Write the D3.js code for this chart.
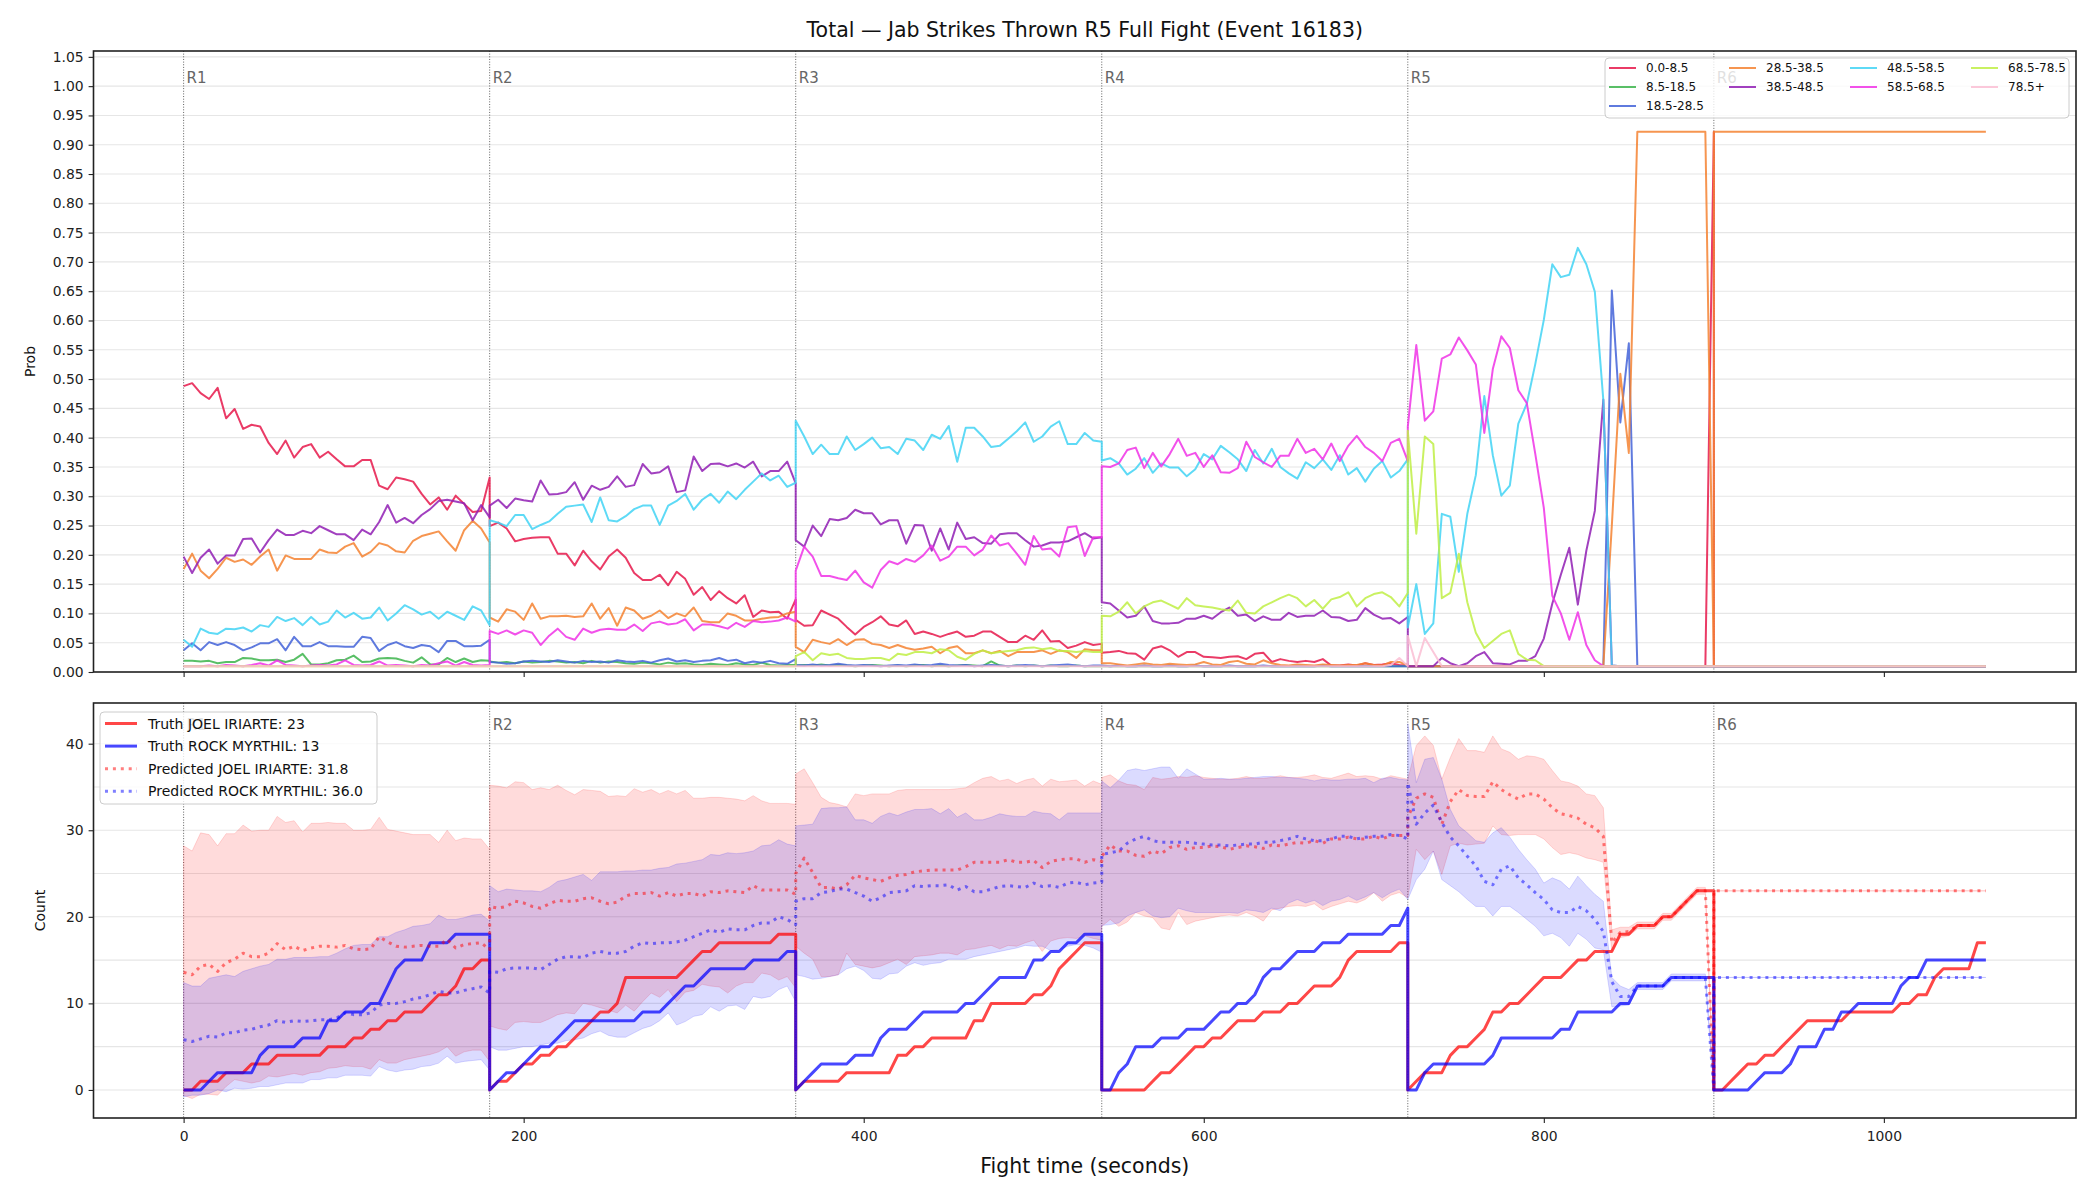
<!DOCTYPE html>
<html>
<head>
<meta charset="utf-8">
<script src="https://cdn.jsdelivr.net/npm/d3@7"></script>
<style>
  body { margin: 0; background: #fff; }
  svg { display: block; }
  text { font-family: "DejaVu Sans", sans-serif; }
</style>
</head>
<body>
<div id="chart"></div>
<script>
const WIDTH = 2100;
const HEIGHT = 1200;

// fight structure: every round sampled each 5 s, start and end included
const ROUND_STARTS = [0, 180, 360, 540, 720, 900];
const ROUND_NAMES = ["R1", "R2", "R3", "R4", "R5", "R6"];
const STEP = 5;

const BIN_LABELS = ["0.0-8.5", "8.5-18.5", "18.5-28.5", "28.5-38.5", "38.5-48.5",
                    "48.5-58.5", "58.5-68.5", "68.5-78.5", "78.5+"];
const BIN_COLORS = ["#e6194b", "#3cb44b", "#4363d8", "#f58231", "#911eb4",
                    "#42d4f4", "#f032e6", "#bfef45", "#fabed4"];

// ---- probability per count bin, one inner list per round ----
const BIN_00 = [
  [.488,.493,.476,.466,.485,.433,.449,.415,.422,.419,.391,.372,.395,.366,.384,.389,.366,.376,.363,.351,.351,.362,.362,.318,.312,.332,.329,.325,.304,.286,.298,.277,.301,.287,.273,.275,.332],
  [.249,.255,.245,.223,.227,.229,.23,.23,.202,.202,.182,.207,.189,.175,.197,.209,.195,.169,.157,.157,.166,.148,.171,.159,.132,.145,.123,.138,.126,.117,.131,.094,.105,.102,.103,.091,.124],
  [.089,.079,.08,.105,.098,.091,.077,.064,.077,.085,.095,.081,.078,.088,.065,.069,.065,.06,.065,.069,.06,.062,.069,.069,.06,.051,.051,.062,.055,.071,.052,.053,.041,.045,.051,.046,.048],
  [.033,.034,.036,.032,.031,.021,.04,.044,.037,.026,.034,.034,.026,.025,.024,.026,.027,.022,.031,.033,.017,.022,.019,.017,.019,.017,.022,.011,.011,.013,.011,.015,.012,.013,.015,.012,.011],
  [.01,.01,.01,.01,.01,.01,.01,.01,.01,.01, .01,.01,.01,.01,.01,.01,.01,.01,.01,.01, .01,.01,.01,.01,.01,.01,.01,.01,.01,.01, .01,.01,.01,.01,.01,.01,.922],
  [.01,.01,.01,.01,.01,.01,.01,.01,.01,.01, .01,.01,.01,.01,.01,.01,.01,.01,.01,.01, .01,.01,.01,.01,.01,.01,.01,.01,.01,.01, .01,.01,.01]
];
const BIN_085 = [
  [.019,.019,.018,.019,.015,.017,.017,.024,.023,.02,.02,.021,.017,.021,.031,.013,.013,.015,.02,.021,.028,.017,.018,.023,.024,.023,.019,.016,.025,.013,.013,.024,.017,.023,.017,.02,.019],
  [.018,.016,.017,.015,.018,.016,.017,.019,.018,.016,.017,.015,.019,.016,.018,.017,.015,.014,.016,.015,.013,.016,.014,.015,.013,.012,.014,.013,.012,.015,.013,.012,.016,.012,.011,.012,.012],
  [.011,.012,.011,.013,.011,.012,.011,.01,.011,.012,.011,.01,.011,.01,.011,.012,.01,.011,.01,.011,.012,.011,.01,.018,.011,.01,.011,.01,.011,.01,.011,.01,.01,.011,.01,.01,.01],
  [.01,.01,.01,.01,.01,.01,.01,.01,.01,.01, .01,.01,.01,.01,.01,.01,.01,.01,.01,.01, .01,.01,.01,.01,.01,.01,.01,.01,.01,.01, .01,.01,.01,.01,.01,.01,.01],
  [.01,.01,.01,.01,.01,.01,.01,.01,.01,.01, .01,.01,.01,.01,.01,.01,.01,.01,.01,.01, .01,.01,.01,.01,.01,.01,.01,.01,.01,.01, .01,.01,.01,.01,.01,.01,.01],
  [.01,.01,.01,.01,.01,.01,.01,.01,.01,.01, .01,.01,.01,.01,.01,.01,.01,.01,.01,.01, .01,.01,.01,.01,.01,.01,.01,.01,.01,.01, .01,.01,.01]
];
const BIN_185 = [
  [.037,.049,.037,.051,.046,.051,.046,.037,.042,.049,.049,.056,.037,.06,.044,.044,.051,.044,.044,.043,.043,.06,.058,.036,.046,.051,.044,.041,.046,.044,.034,.053,.053,.044,.044,.045,.055],
  [.017,.016,.014,.015,.018,.019,.018,.017,.02,.018,.016,.019,.017,.018,.016,.02,.018,.017,.019,.016,.02,.023,.018,.02,.017,.019,.02,.024,.019,.021,.015,.018,.016,.019,.015,.014,.022],
  [.012,.011,.013,.011,.012,.014,.012,.011,.012,.011,.01,.011,.012,.011,.013,.011,.012,.014,.012,.011,.012,.01,.011,.012,.011,.01,.011,.012,.011,.01,.011,.012,.013,.011,.01,.011,.011],
  [.011,.01,.011,.01,.01,.011,.01,.01,.011,.01,.01,.011,.01,.01,.01,.011,.01,.01,.01,.011,.01,.01,.01,.01,.01,.01,.011,.01,.01,.01,.01,.01,.01,.01,.01,.01,.01],
  [.01,.01,.01,.01,.01,.01,.01,.01,.01,.01, .01,.01,.01,.01,.01,.01,.01,.01,.01,.01, .01,.01,.01,.01,.651,.426,.561, .01,.01,.01,.01,.01,.01,.01,.01,.01,.01],
  [.01,.01,.01,.01,.01,.01,.01,.01,.01,.01, .01,.01,.01,.01,.01,.01,.01,.01,.01,.01, .01,.01,.01,.01,.01,.01,.01,.01,.01,.01, .01,.01,.01]
];
const BIN_285 = [
  [.176,.202,.173,.16,.176,.195,.188,.192,.183,.197,.209,.173,.199,.193,.193,.193,.209,.204,.203,.214,.22,.197,.205,.22,.216,.206,.204,.224,.232,.236,.24,.223,.207,.242,.258,.245,.221],
  [.093,.086,.107,.103,.089,.117,.091,.095,.095,.096,.094,.095,.117,.091,.109,.079,.11,.105,.091,.096,.105,.092,.1,.095,.11,.087,.085,.085,.1,.096,.088,.088,.091,.093,.094,.1,.103],
  [.043,.034,.055,.051,.048,.056,.046,.055,.056,.048,.046,.041,.046,.041,.038,.04,.043,.032,.041,.044,.032,.032,.037,.032,.036,.027,.034,.034,.034,.037,.031,.037,.034,.024,.039,.037,.037],
  [.015,.015,.013,.011,.013,.015,.013,.012,.014,.013,.012,.013,.017,.013,.012,.017,.019,.014,.013,.02,.015,.012,.011,.013,.012,.011,.013,.012,.011,.012,.012,.015,.012,.011,.017,.017,.012],
  [.01,.01,.01,.01,.01,.01,.01,.01,.01,.01, .01,.01,.01,.01,.01,.01,.01,.01,.01,.01, .01,.01,.01,.01,.25,.509,.374, .922,.922,.922,.922,.922,.922,.922,.922,.922,.01],
  [.922,.922,.922,.922,.922,.922,.922,.922,.922,.922, .922,.922,.922,.922,.922,.922,.922,.922,.922,.922, .922,.922,.922,.922,.922,.922,.922,.922,.922,.922, .922,.922,.922]
];
const BIN_385 = [
  [.197,.169,.195,.209,.185,.199,.199,.227,.228,.204,.225,.243,.234,.234,.241,.237,.249,.242,.235,.235,.225,.243,.235,.256,.285,.255,.263,.254,.268,.278,.292,.294,.291,.288,.259,.285,.264],
  [.284,.294,.28,.296,.293,.291,.327,.303,.304,.307,.324,.294,.318,.311,.316,.334,.316,.319,.355,.339,.341,.351,.307,.31,.368,.343,.355,.356,.351,.356,.349,.359,.334,.343,.343,.359,.322],
  [.225,.214,.25,.232,.261,.259,.263,.277,.271,.271,.252,.259,.259,.219,.251,.25,.207,.245,.209,.255,.227,.23,.22,.219,.235,.237,.237,.225,.214,.216,.221,.221,.223,.23,.237,.228,.23],
  [.119,.117,.105,.093,.096,.112,.087,.083,.083,.084,.091,.091,.096,.091,.102,.11,.096,.098,.087,.095,.089,.089,.101,.094,.096,.096,.105,.094,.093,.087,.089,.109,.098,.091,.092,.083,.094],
  [.01,.01,.01,.01,.024,.015,.01,.015,.027,.034,.015,.014,.013,.019,.019,.027,.057,.117,.166,.212,.115,.207,.275,.465,.011, .01,.01,.01,.01,.01,.01,.01,.01,.01,.01,.01,.01],
  [.01,.01,.01,.01,.01,.01,.01,.01,.01,.01, .01,.01,.01,.01,.01,.01,.01,.01,.01,.01, .01,.01,.01,.01,.01,.01,.01,.01,.01,.01, .01,.01,.01]
];
const BIN_485 = [
  [.055,.043,.074,.067,.065,.074,.073,.076,.069,.08,.077,.094,.087,.092,.08,.094,.081,.086,.105,.093,.101,.091,.093,.11,.088,.1,.114,.107,.098,.103,.091,.103,.096,.089,.112,.105,.08],
  [.259,.255,.249,.268,.268,.244,.251,.257,.27,.282,.284,.286,.256,.298,.259,.257,.266,.278,.284,.284,.251,.284,.292,.304,.277,.294,.304,.289,.308,.295,.311,.325,.339,.327,.335,.316,.323],
  [.429,.402,.372,.388,.372,.372,.402,.379,.389,.4,.382,.384,.372,.398,.395,.379,.405,.398,.42,.359,.417,.417,.402,.384,.386,.398,.411,.426,.393,.402,.419,.428,.389,.389,.408,.395,.393],
  [.361,.365,.356,.337,.347,.365,.34,.356,.349,.349,.334,.346,.372,.363,.386,.375,.363,.343,.379,.356,.381,.35,.339,.33,.358,.348,.363,.345,.37,.337,.348,.325,.347,.36,.332,.343,.363],
  [.076,.15,.065,.083,.27,.265,.171,.27,.336,.471,.37,.301,.318,.424,.458,.526,.601,.696,.674,.678,.724,.696,.649,.464,.011, .01,.01,.01,.01,.01,.01,.01,.01,.01,.01,.01,.01],
  [.01,.01,.01,.01,.01,.01,.01,.01,.01,.01, .01,.01,.01,.01,.01,.01,.01,.01,.01,.01, .01,.01,.01,.01,.01,.01,.01,.01,.01,.01, .01,.01,.01]
];
const BIN_585 = [
  [.01,.01,.01,.011,.01,.012,.011,.01,.012,.015,.011,.02,.012,.011,.01,.011,.012,.011,.013,.02,.012,.011,.012,.018,.011,.012,.011,.01,.012,.011,.015,.018,.011,.017,.012,.011,.012],
  [.07,.065,.071,.064,.071,.067,.046,.062,.074,.06,.055,.074,.067,.072,.074,.072,.072,.081,.07,.083,.086,.081,.083,.09,.071,.081,.081,.078,.074,.084,.077,.087,.085,.086,.088,.093,.086],
  [.173,.214,.197,.164,.164,.16,.157,.173,.153,.144,.174,.189,.184,.193,.188,.199,.216,.19,.197,.214,.214,.199,.209,.233,.216,.22,.202,.183,.232,.209,.211,.197,.247,.249,.198,.23,.23],
  [.351,.35,.356,.379,.383,.348,.374,.351,.372,.398,.369,.374,.35,.37,.341,.34,.348,.393,.367,.358,.35,.369,.369,.398,.374,.381,.363,.39,.36,.386,.403,.384,.374,.36,.391,.398,.36],
  [.419,.558,.429,.445,.535,.542,.571,.549,.525,.408,.517,.573,.553,.481,.459,.372,.28,.13,.1,.055,.102,.046,.02, .01,.01,.01,.01,.01,.01,.01,.01,.01,.01,.01,.01,.01,.01],
  [.01,.01,.01,.01,.01,.01,.01,.01,.01,.01, .01,.01,.01,.01,.01,.01,.01,.01,.01,.01, .01,.01,.01,.01,.01,.01,.01,.01,.01,.01, .01,.01,.01]
];
const BIN_685 = [
  [.01,.01,.01,.01,.01,.01,.01,.01,.01,.01, .01,.01,.01,.01,.01,.01,.01,.01,.01,.01, .01,.01,.01,.01,.01,.01,.01,.01,.01,.01, .01,.01,.01,.01,.01,.01,.01],
  [.01,.01,.01,.01,.01,.01,.01,.01,.01,.01, .01,.01,.01,.01,.01,.01,.01,.01,.01,.01, .01,.01,.01,.01,.01,.01,.01,.01,.01,.01, .01,.01,.01,.01,.01,.01,.01],
  [.027,.034,.02,.032,.029,.031,.024,.022,.022,.024,.024,.02,.031,.029,.034,.034,.032,.039,.037,.026,.021,.031,.037,.032,.034,.036,.037,.041,.042,.039,.041,.036,.036,.034,.036,.034,.034],
  [.096,.095,.103,.119,.1,.112,.119,.122,.115,.108,.126,.114,.112,.11,.107,.105,.122,.101,.1,.112,.119,.126,.132,.126,.112,.123,.108,.124,.128,.136,.112,.126,.133,.136,.128,.112,.135],
  [.412,.236,.402,.389,.126,.135,.202,.119,.067,.041,.053,.065,.071,.031,.021,.02, .01,.01,.01,.01,.01,.01,.01,.01,.01,.01,.01,.01,.01,.01,.01,.01,.01,.01,.01,.01,.01],
  [.01,.01,.01,.01,.01,.01,.01,.01,.01,.01, .01,.01,.01,.01,.01,.01,.01,.01,.01,.01, .01,.01,.01,.01,.01,.01,.01,.01,.01,.01, .01,.01,.01]
];
const BIN_785 = [
  [.01,.01,.01,.01,.01,.01,.01,.01,.01,.01, .01,.01,.01,.01,.01,.01,.01,.01,.01,.01, .01,.01,.01,.01,.01,.01,.01,.01,.01,.01, .01,.01,.01,.01,.01,.01,.01],
  [.01,.01,.01,.01,.01,.01,.01,.01,.01,.01, .01,.01,.01,.01,.01,.01,.01,.01,.01,.01, .01,.01,.01,.01,.01,.01,.01,.01,.01,.01, .01,.01,.01,.01,.01,.01,.01],
  [.01,.01,.01,.01,.01,.01,.01,.01,.01,.01, .01,.01,.01,.01,.01,.01,.01,.01,.01,.01, .01,.01,.01,.01,.01,.01,.01,.01,.01,.01, .01,.01,.01,.01,.01,.01,.01],
  [.01,.01,.01,.01,.01,.01,.01,.01,.01,.01, .01,.01,.01,.01,.01,.01,.01,.01,.01,.01, .01,.01,.01,.01,.01,.01,.01,.01,.01,.01, .01,.01,.01,.01,.012,.024,.01],
  [.062,.01,.058,.034,.01,.01,.01,.01,.01,.01, .01,.01,.01,.01,.01,.01,.01,.01,.01,.01, .01,.01,.01,.01,.01,.01,.01,.01,.01,.01, .01,.01,.01,.01,.01,.01,.01],
  [.01,.01,.01,.01,.01,.01,.01,.01,.01,.01, .01,.01,.01,.01,.01,.01,.01,.01,.01,.01, .01,.01,.01,.01,.01,.01,.01,.01,.01,.01, .01,.01,.01]
];
const BINS = [BIN_00, BIN_085, BIN_185, BIN_285, BIN_385, BIN_485, BIN_585, BIN_685, BIN_785];

// ---- cumulative jab counts per round ----
const TRUTH_JOEL = [
  [0,0,1,1,1,2,2,2,3,3,3,4,4,4,4,4,4,5,5,5,6,6,7,7,8,8,9,9,9,10,11,11,12,14,14,15,15],
  [0,1,1,2,3,3,4,4,5,5,6,7,8,9,9,10,13,13,13,13,13,13,13,14,15,16,16,17,17,17,17,17,17,17,18,18,18],
  [0,1,1,1,1,1,2,2,2,2,2,2,4,4,5,5,6,6,6,6,6,8,8,10,10,10,10,10,11,11,12,14,15,16,17,17,17],
  [0,0,0,0,0,0,1,2,2,3,4,5,5,6,6,7,8,8,8,9,9,9,10,10,11,12,12,12,13,15,16,16,16,16,16,17,17],
  [0,1,2,2,2,4,5,5,6,7,9,9,10,10,11,12,13,13,13,14,15,15,16,16,16,18,18,19,19,19,20,20,21,22,23,23,23],
  [0,0,1,2,3,3,4,4,5,6,7,8,8,8,8,8,9,9,9,9,9,9,10,10,11,11,13,14,14,14,14,17,17]
];
const TRUTH_ROCK = [
  [0,0,0,1,2,2,2,2,2,4,5,5,5,5,6,6,6,8,8,9,9,9,10,10,12,14,15,15,15,17,17,17,18,18,18,18,18],
  [0,1,2,2,3,4,5,5,6,7,8,8,8,8,8,8,8,8,9,9,9,10,11,12,12,13,14,14,14,14,14,15,15,15,15,16,16],
  [0,1,2,3,3,3,3,4,4,4,6,7,7,7,8,9,9,9,9,9,10,10,11,12,13,13,13,13,15,15,16,16,17,17,18,18,18],
  [0,0,2,3,5,5,5,6,6,6,7,7,7,8,9,9,10,10,11,13,14,14,15,16,16,16,17,17,17,18,18,18,18,18,19,19,21],
  [0,0,2,3,3,3,3,3,3,3,4,6,6,6,6,6,6,6,7,7,9,9,9,9,9,10,10,12,12,12,12,13,13,13,13,13,13],
  [0,0,0,0,0,1,2,2,2,3,5,5,5,7,7,9,9,10,10,10,10,10,12,13,13,15,15,15,15,15,15,15,15]
];
const PRED_JOEL = [
  [13.6,13.3,14.3,14.5,13.7,14.7,15.1,15.8,15.4,15.4,15.8,16.9,16.2,16.6,16.1,16.4,16.6,16.6,16.5,16.7,16.3,16.2,16.3,17.7,17.1,16.6,16.5,16.6,16.7,16.6,16.6,17.4,16.4,16.8,16.9,17.0,16.2],
  [21.2,21.0,21.2,21.8,21.6,21.2,21.0,21.5,21.9,21.8,21.8,22.1,22.2,21.8,21.5,21.7,22.4,22.7,22.7,22.8,22.4,22.8,22.4,22.7,22.7,22.4,22.9,22.8,23.0,22.9,22.8,23.6,23.1,23.1,23.1,23.1,22.6],
  [25.0,26.8,25.1,23.4,23.4,23.2,23.7,24.8,24.5,24.3,24.1,24.5,24.8,24.9,25.2,25.3,25.4,25.4,25.4,25.4,25.8,26.3,26.3,26.3,26.3,26.6,26.3,26.3,26.5,25.7,26.4,26.6,26.7,26.7,26.3,26.6,26.4],
  [27.0,28.3,27.6,27.6,27.1,27.0,27.6,27.3,28.0,28.2,27.8,28.0,28.0,28.2,28.1,27.8,28.0,28.2,28.1,27.9,28.3,28.2,28.4,28.6,28.5,28.8,28.5,29.0,29.0,29.2,29.0,29.0,29.3,29.0,29.4,29.4,29.4],
  [31.5,33.7,34.2,33.8,30.7,33.3,34.7,34.0,33.9,33.9,35.6,34.7,34.1,33.6,34.2,34.2,33.6,32.6,31.9,31.7,31.4,30.7,30.3,29.3,17.0,18.2,18.3,19.0,19.0,19.0,20.0,20.0,21.0,22.0,23.0,23.0,0],
  [23,23,23,23,23,23,23,23,23,23,23,23,23,23,23,23,23,23,23,23,23,23,23,23,23,23,23,23,23,23,23,23,23]
];
const PRED_ROCK = [
  [5.8,5.6,5.9,6.2,6.1,6.6,6.6,6.9,7.0,7.3,7.5,8.0,7.8,8.0,7.9,8.0,8.1,8.1,8.3,8.9,8.7,8.7,8.9,9.8,10.0,10.0,10.2,10.5,10.7,11.0,11.4,11.2,11.2,11.5,11.7,11.9,11.2],
  [13.7,13.6,14.0,14.1,14.1,14.1,13.9,14.5,15.1,15.4,15.4,15.3,15.8,16.0,15.8,15.8,16.0,16.6,17.0,16.9,17.0,17.0,17.1,17.3,17.7,18.1,18.5,18.2,18.6,18.5,18.5,19.0,19.3,19.3,20.0,19.7,19.1],
  [21.8,22.1,22.1,22.8,22.9,23.2,23.2,22.8,22.4,21.8,22.2,22.8,22.9,23.0,23.6,23.5,23.6,23.6,23.7,23.1,23.5,22.9,22.9,23.2,23.5,23.6,23.5,23.4,23.9,23.5,23.6,23.4,23.9,24.0,23.7,23.9,24.0],
  [27.2,27.4,27.6,28.5,29.0,29.3,28.8,28.6,28.6,28.6,28.6,28.5,28.4,28.3,28.3,28.2,28.3,28.4,28.4,28.6,28.6,28.8,29.0,29.3,29.0,28.8,28.8,29.0,29.3,29.3,29.0,29.2,29.3,29.3,29.5,29.4,29.0],
  [35.5,30.7,32.0,32.9,30.9,29.2,28.2,27.0,25.9,24.1,23.7,25.5,25.9,24.5,23.7,22.8,22.0,20.8,20.5,20.5,21.2,20.7,19.7,18.3,12.5,10.8,10.8,12.0,12.0,12.0,12.0,13.0,13.0,13.0,13.0,13.0,0],
  [13,13,13,13,13,13,13,13,13,13,13,13,13,13,13,13,13,13,13,13,13,13,13,13,13,13,13,13,13,13,13,13,13]
];
const JOEL_HI = [
  [28.2,27.6,29.7,29.5,28.2,29.6,29.6,30.6,29.9,30.0,30.0,31.6,30.9,31.1,29.8,30.8,30.8,30.9,30.8,30.8,30.0,30.0,30.1,31.5,30.1,29.9,29.7,29.5,29.5,29.5,28.6,30.0,28.8,29.1,29.0,29.0,27.8],
  [35.2,35.1,34.9,35.6,35.5,34.7,34.9,34.7,35.2,34.6,34.1,34.7,34.6,34.5,33.9,34.0,33.9,34.8,34.4,34.7,34.2,34.6,34.2,34.6,33.7,33.7,33.8,33.8,33.7,33.6,33.4,34.0,33.4,33.1,33.1,33.1,33.0],
  [36.5,37.1,35.5,33.8,33.2,33.0,32.7,34.2,34.0,34.2,34.2,34.2,34.6,34.7,34.7,34.7,34.7,34.7,34.7,34.8,34.9,35.5,36.0,36.2,35.7,35.9,35.4,35.8,36.0,35.1,35.9,35.6,35.7,35.8,35.1,35.7,35.3],
  [36.1,36.4,35.7,35.3,35.2,34.7,36.1,35.9,36.0,36.2,36.1,36.3,36.1,36.0,35.9,35.9,36.0,36.2,36.0,36.0,36.1,36.3,36.1,36.1,36.2,36.4,36.1,36.0,36.3,36.6,36.2,36.3,36.2,35.9,36.3,36.1,35.9],
  [35.9,39.8,40.9,39.8,35.9,38.4,40.6,39.2,39.2,39.0,40.9,39.4,39.0,38.2,38.6,38.5,38.2,36.9,35.7,35.5,35.1,34.2,34.0,32.6,18.5,18.8,18.8,19.4,19.4,19.4,20.4,20.4,21.4,22.4,23.4,23.4,0],
  [23,23,23,23,23,23,23,23,23,23,23,23,23,23,23,23,23,23,23,23,23,23,23,23,23,23,23,23,23,23,23,23,23]
];
const JOEL_LO = [
  [-0.6,-1.0,-0.5,-0.5,-0.6,0.4,1.2,1.0,0.8,1.0,1.6,1.5,1.7,1.9,1.7,2.0,2.1,2.5,2.6,2.8,2.7,2.7,2.4,3.5,3.1,3.1,3.5,3.7,3.9,4.1,4.4,5.0,3.9,4.4,4.6,4.6,3.3],
  [7.4,7.1,6.9,7.8,7.9,7.8,7.8,8.2,8.7,8.9,8.8,10.0,9.8,9.5,9.2,8.9,9.8,9.1,10.2,11.2,10.7,11.6,10.2,11.3,11.5,12.2,12.0,11.9,11.2,12.0,12.4,12.4,13.5,13.3,12.7,13.1,11.8],
  [16.6,15.8,15.1,13.1,13.1,13.3,15.8,14.5,14.3,14.1,14.3,14.7,15.1,14.5,15.4,15.5,15.6,15.8,15.8,15.6,16.2,16.3,16.5,16.7,16.3,16.7,16.6,17.0,17.3,16.0,17.2,17.5,17.6,17.5,17.8,17.5,17.3],
  [18.9,19.7,18.9,19.4,20.5,20.1,19.9,18.7,18.5,20.5,19.1,19.5,19.7,19.9,20.1,20.2,20.1,20.5,20.1,19.5,20.8,21.0,21.2,21.3,21.2,21.5,20.8,21.2,21.5,21.8,21.6,22.0,22.8,21.8,22.5,22.8,22.2],
  [22.2,27.8,26.6,27.6,24.9,28.2,28.5,28.3,28.4,28.5,30.5,29.5,29.4,29.5,29.5,29.5,29.0,28.0,27.2,27.4,27.2,26.8,26.6,26.3,16.0,17.6,17.8,18.6,18.6,18.6,19.6,19.6,20.6,21.6,22.6,22.6,0],
  [23,23,23,23,23,23,23,23,23,23,23,23,23,23,23,23,23,23,23,23,23,23,23,23,23,23,23,23,23,23,23,23,23]
];
const ROCK_HI = [
  [12.4,12.0,12.0,12.9,13.1,13.3,13.1,13.7,14.0,14.3,14.5,15.1,15.1,15.3,15.3,15.3,15.4,15.4,15.8,16.3,16.7,16.8,16.8,17.7,17.7,18.2,18.5,18.9,19.0,19.2,20.2,19.7,19.7,19.9,20.2,20.3,19.5],
  [23.6,22.9,23.2,23.1,23.0,23.0,22.9,23.4,24.1,24.3,24.6,24.9,24.2,25.2,25.2,25.2,25.3,25.3,25.4,25.4,25.6,25.7,26.1,26.2,26.4,26.6,27.2,27.1,27.4,27.3,27.4,27.6,28.2,28.3,28.9,28.4,28.2],
  [30.5,30.6,30.7,32.5,32.6,32.6,32.7,31.2,31.2,30.8,31.6,32.0,31.7,32.1,32.4,32.4,32.5,31.9,32.5,31.5,32.0,31.2,31.2,31.5,31.9,31.7,31.6,31.6,32.2,32.0,31.9,31.2,32.0,32.0,32.0,32.0,32.0],
  [35.7,34.9,35.8,36.9,37.1,36.9,37.1,37.3,37.3,36.0,37.1,36.5,35.9,35.9,36.0,35.9,35.9,36.0,36.1,36.2,36.2,36.1,36.1,36.0,35.9,35.7,35.9,35.8,35.8,35.9,35.9,36.0,35.5,36.0,36.1,35.9,35.8],
  [42.3,35.5,38.2,38.4,35.9,32.4,30.5,29.7,28.8,28.6,29.7,30.3,29.2,27.8,26.6,25.5,23.9,24.5,24.1,23.2,24.7,23.6,22.6,21.8,13.0,12.0,11.6,12.4,12.4,12.4,12.4,13.4,13.4,13.4,13.4,13.4,0],
  [13,13,13,13,13,13,13,13,13,13,13,13,13,13,13,13,13,13,13,13,13,13,13,13,13,13,13,13,13,13,13,13,13]
];
const ROCK_LO = [
  [-0.8,-0.6,-0.6,-0.4,0.0,-0.2,0.2,0.1,0.2,0.4,0.4,0.6,0.8,0.8,0.8,1.2,1.2,1.4,1.4,1.7,1.7,1.7,1.6,2.7,2.3,2.1,2.3,2.4,2.7,2.8,3.1,3.9,3.1,3.3,3.4,3.5,2.3],
  [5.0,4.6,4.6,4.8,5.0,5.0,5.2,5.4,5.4,5.7,5.8,6.0,6.5,6.8,6.3,6.1,6.1,6.6,7.1,7.4,8.0,8.9,7.5,7.9,8.5,8.7,9.6,9.1,9.7,9.8,9.3,10.8,10.6,10.8,11.6,12.0,10.2],
  [13.3,13.1,12.8,12.9,13.1,13.3,14.0,14.3,13.8,12.9,12.8,13.4,13.5,14.3,14.7,14.4,14.6,14.7,15.1,15.1,15.1,15.4,15.6,15.8,16.0,16.2,16.4,16.7,16.6,16.6,16.1,16.2,16.6,16.8,16.7,16.4,15.9],
  [19.0,19.1,19.3,20.1,20.5,20.8,20.1,19.9,20.0,21.0,20.7,20.5,20.5,20.5,20.5,20.5,20.4,20.8,20.7,20.5,21.0,20.7,21.6,22.0,21.6,21.9,21.3,21.8,22.0,22.4,21.9,22.3,22.8,22.2,22.8,23.2,22.0],
  [22.0,24.3,25.5,27.6,24.3,23.6,22.9,22.0,21.2,21.2,20.1,21.2,21.2,20.5,19.7,18.9,17.8,18.1,17.6,16.6,18.1,17.4,16.4,16.2,9.6,9.7,9.8,11.6,11.6,11.6,11.6,12.6,12.6,12.6,12.6,12.6,0],
  [13,13,13,13,13,13,13,13,13,13,13,13,13,13,13,13,13,13,13,13,13,13,13,13,13,13,13,13,13,13,13,13,13]
];

// ---- helpers: attach fight time to each reading ----
function toSeries(rounds) {
  return rounds.flatMap((vals, r) => vals.map((v, k) => ({t: ROUND_STARTS[r] + k * STEP, v: v})));
}
function toBand(lo, hi) {
  return lo.flatMap((vals, r) => vals.map((v, k) => ({t: ROUND_STARTS[r] + k * STEP, lo: v, hi: hi[r][k]})));
}

const FONT = '"DejaVu Sans", sans-serif';
const TOP = {top: 51, bottom: 672};
const BOT = {top: 703, bottom: 1118};
const LEFT = 93.5, RIGHT = 2076;

const svg = d3.select("#chart").append("svg")
  .attr("width", WIDTH).attr("height", HEIGHT)
  .style("background", "#fff");

const x = d3.scaleLinear().domain([-53, 1113]).range([LEFT, RIGHT]);
const yTop = d3.scaleLinear().domain([0, 1.06]).range([TOP.bottom, TOP.top]);
const yBot = d3.scaleLinear().domain([-3.24, 44.7]).range([BOT.bottom, BOT.top]);

const defs = svg.append("defs");
defs.append("clipPath").attr("id", "clipTop").append("rect")
  .attr("x", LEFT).attr("y", TOP.top).attr("width", RIGHT - LEFT).attr("height", TOP.bottom - TOP.top);
defs.append("clipPath").attr("id", "clipBot").append("rect")
  .attr("x", LEFT).attr("y", BOT.top).attr("width", RIGHT - LEFT).attr("height", BOT.bottom - BOT.top);

// ---------- grids ----------
const topTicks = d3.range(0, 22).map(i => +(i * 0.05).toFixed(2));
const botGrid = d3.range(0, 9).map(i => i * 5);

svg.append("g").selectAll("line").data(topTicks).enter().append("line")
  .attr("x1", LEFT).attr("x2", RIGHT)
  .attr("y1", d => yTop(d)).attr("y2", d => yTop(d))
  .attr("stroke", "#e6e6e6").attr("stroke-width", 1.1);
svg.append("g").selectAll("line").data(botGrid).enter().append("line")
  .attr("x1", LEFT).attr("x2", RIGHT)
  .attr("y1", d => yBot(d)).attr("y2", d => yBot(d))
  .attr("stroke", "#e6e6e6").attr("stroke-width", 1.1);

// ---------- round markers ----------
function roundMarkers(yScaleRange, labelY, clipId) {
  const g = svg.append("g").attr("clip-path", `url(#${clipId})`);
  g.selectAll("line").data(ROUND_STARTS).enter().append("line")
    .attr("x1", d => x(d)).attr("x2", d => x(d))
    .attr("y1", yScaleRange[0]).attr("y2", yScaleRange[1])
    .attr("stroke", "#444").attr("stroke-opacity", 0.85)
    .attr("stroke-width", 1).attr("stroke-dasharray", "1,1.65");
  g.selectAll("text").data(ROUND_STARTS).enter().append("text")
    .attr("x", d => x(d) + 3)
    .attr("y", labelY)
    .attr("dominant-baseline", "central")
    .attr("fill", "#666")
    .style("font-size", "15px")
    .text((d, i) => ROUND_NAMES[i]);
}
roundMarkers([TOP.top, TOP.bottom], 78, "clipTop");
roundMarkers([BOT.top, BOT.bottom], 724.5, "clipBot");

// ---------- top panel: bin probabilities ----------
const lineTop = d3.line().x(d => x(d.t)).y(d => yTop(d.v));
svg.append("g").attr("clip-path", "url(#clipTop)")
  .selectAll("path").data(BINS).enter().append("path")
  .attr("d", d => lineTop(toSeries(d)))
  .attr("fill", "none")
  .attr("stroke", (d, i) => BIN_COLORS[i])
  .attr("stroke-opacity", 0.85)
  .attr("stroke-width", 2)
  .attr("stroke-linejoin", "round");

// ---------- bottom panel: counts ----------
const area = d3.area().x(d => x(d.t)).y0(d => yBot(d.lo)).y1(d => yBot(d.hi));
const lineBot = d3.line().x(d => x(d.t)).y(d => yBot(d.v));
const gBot = svg.append("g").attr("clip-path", "url(#clipBot)");

const bands = [
  {lo: JOEL_LO, hi: JOEL_HI, color: "red"},
  {lo: ROCK_LO, hi: ROCK_HI, color: "blue"}
];
gBot.selectAll("path.band").data(bands).enter().append("path")
  .attr("class", "band")
  .attr("d", d => area(toBand(d.lo, d.hi)))
  .attr("fill", d => d.color).attr("fill-opacity", 0.14)
  .attr("stroke", d => d.color).attr("stroke-opacity", 0.14).attr("stroke-width", 1);

const countLines = [
  {data: TRUTH_JOEL, color: "red", dash: null, op: 0.72},
  {data: TRUTH_ROCK, color: "blue", dash: null, op: 0.72},
  {data: PRED_JOEL, color: "red", dash: "3,4.9", op: 0.5},
  {data: PRED_ROCK, color: "blue", dash: "3,4.9", op: 0.5}
];
gBot.selectAll("path.count").data(countLines).enter().append("path")
  .attr("class", "count")
  .attr("d", d => lineBot(toSeries(d.data)))
  .attr("fill", "none")
  .attr("stroke", d => d.color)
  .attr("stroke-opacity", d => d.op)
  .attr("stroke-width", 3)
  .attr("stroke-dasharray", d => d.dash)
  .attr("stroke-linejoin", "round");

// ---------- axes ----------
function styleAxis(g) {
  g.select(".domain").remove();
  g.selectAll(".tick line").attr("stroke", "#222").attr("stroke-width", 1.1);
  g.selectAll(".tick text").attr("fill", "#222").style("font-size", "13.9px").style("font-family", FONT);
}
const xTicks = [0, 200, 400, 600, 800, 1000];

svg.append("g").attr("transform", `translate(0,${TOP.bottom})`)
  .call(d3.axisBottom(x).tickValues(xTicks).tickFormat("").tickSize(4.9))
  .call(styleAxis);
svg.append("g").attr("transform", `translate(0,${BOT.bottom})`)
  .call(d3.axisBottom(x).tickValues(xTicks).tickFormat(d3.format("d")).tickSize(4.9).tickPadding(8.7))
  .call(styleAxis);
svg.append("g").attr("transform", `translate(${LEFT},0)`)
  .call(d3.axisLeft(yTop).tickValues(topTicks).tickFormat(d3.format(".2f")).tickSize(4.9).tickPadding(4.9))
  .call(styleAxis);
svg.append("g").attr("transform", `translate(${LEFT},0)`)
  .call(d3.axisLeft(yBot).tickValues([0, 10, 20, 30, 40]).tickFormat(d3.format("d")).tickSize(4.9).tickPadding(4.9))
  .call(styleAxis);

// spines
[TOP, BOT].forEach(p => {
  svg.append("rect")
    .attr("x", LEFT).attr("y", p.top)
    .attr("width", RIGHT - LEFT).attr("height", p.bottom - p.top)
    .attr("fill", "none").attr("stroke", "#222").attr("stroke-width", 1.6);
});

// ---------- labels ----------
svg.append("text").attr("x", (LEFT + RIGHT) / 2).attr("y", 37)
  .attr("text-anchor", "middle").attr("fill", "#111")
  .style("font-size", "20.5px")
  .text("Total \u2014 Jab Strikes Thrown R5 Full Fight (Event 16183)");
svg.append("text").attr("x", (LEFT + RIGHT) / 2).attr("y", 1173)
  .attr("text-anchor", "middle").attr("fill", "#111")
  .style("font-size", "20.5px")
  .text("Fight time (seconds)");
svg.append("text")
  .attr("transform", `translate(30,${(TOP.top + TOP.bottom) / 2}) rotate(-90)`)
  .attr("text-anchor", "middle").attr("dominant-baseline", "central").attr("fill", "#111")
  .style("font-size", "14px").text("Prob");
svg.append("text")
  .attr("transform", `translate(40,${(BOT.top + BOT.bottom) / 2}) rotate(-90)`)
  .attr("text-anchor", "middle").attr("dominant-baseline", "central").attr("fill", "#111")
  .style("font-size", "14px").text("Count");

// ---------- legends ----------
const topLegend = svg.append("g");
topLegend.append("rect")
  .attr("x", 1605).attr("y", 58).attr("width", 464).attr("height", 60).attr("rx", 4)
  .attr("fill", "#fff").attr("fill-opacity", 0.8)
  .attr("stroke", "#ccc").attr("stroke-width", 1);
const colX = [1609, 1729, 1850, 1971];
const colOf = [0, 0, 0, 1, 1, 2, 2, 3, 3];
const rowOf = [0, 1, 2, 0, 1, 0, 1, 0, 1];
const topItems = topLegend.selectAll("g.item").data(BIN_LABELS).enter().append("g").attr("class", "item")
  .attr("transform", (d, i) => `translate(${colX[colOf[i]]},${68 + rowOf[i] * 19})`);
topItems.append("line").attr("x1", 0).attr("x2", 27).attr("y1", 0).attr("y2", 0)
  .attr("stroke", (d, i) => BIN_COLORS[i]).attr("stroke-opacity", 0.85).attr("stroke-width", 2);
topItems.append("text").attr("x", 37).attr("y", 0).attr("dominant-baseline", "central")
  .attr("fill", "#111").style("font-size", "12px").text(d => d);

const botLegendItems = [
  {label: "Truth JOEL IRIARTE: 23", color: "red", dash: null, op: 0.72},
  {label: "Truth ROCK MYRTHIL: 13", color: "blue", dash: null, op: 0.72},
  {label: "Predicted JOEL IRIARTE: 31.8", color: "red", dash: "3,4.9", op: 0.5},
  {label: "Predicted ROCK MYRTHIL: 36.0", color: "blue", dash: "3,4.9", op: 0.5}
];
const botLegend = svg.append("g");
botLegend.append("rect")
  .attr("x", 100).attr("y", 712).attr("width", 277).attr("height", 92).attr("rx", 4)
  .attr("fill", "#fff").attr("fill-opacity", 0.8)
  .attr("stroke", "#ccc").attr("stroke-width", 1);
const bItems = botLegend.selectAll("g.item").data(botLegendItems).enter().append("g").attr("class", "item")
  .attr("transform", (d, i) => `translate(105,${723.5 + i * 22.6})`);
bItems.append("line").attr("x1", 0).attr("x2", 32).attr("y1", 0).attr("y2", 0)
  .attr("stroke", d => d.color).attr("stroke-opacity", d => d.op)
  .attr("stroke-width", 3).attr("stroke-dasharray", d => d.dash);
bItems.append("text").attr("x", 43).attr("y", 0).attr("dominant-baseline", "central")
  .attr("fill", "#111").style("font-size", "14px").text(d => d.label);
</script>
</body>
</html>
